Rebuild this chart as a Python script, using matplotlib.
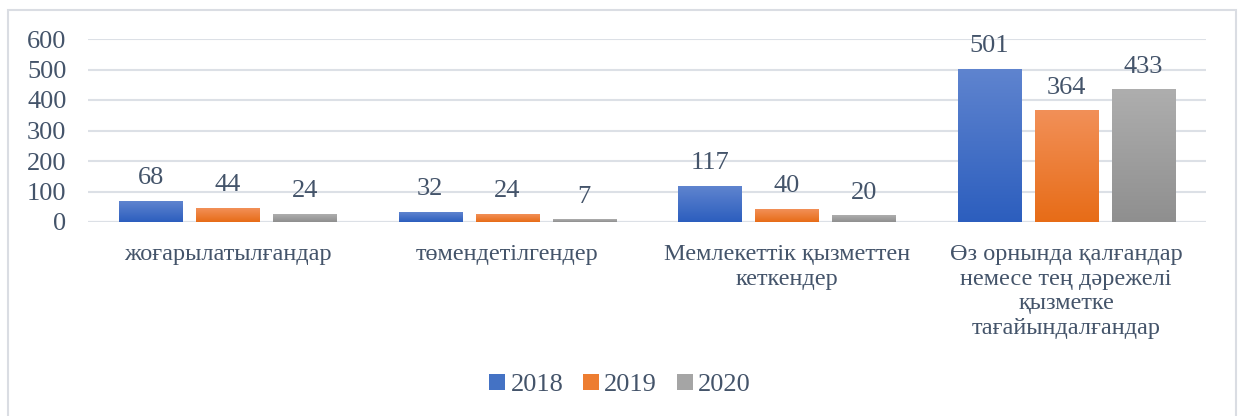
import matplotlib
matplotlib.use('Agg')
from matplotlib import pyplot as plt
from matplotlib.patches import Patch, Rectangle
from matplotlib.colors import LinearSegmentedColormap
import numpy as np

plt.rcParams['font.family'] = ['Liberation Serif', 'DejaVu Serif']

categories = [
    'жоғарылатылғандар',
    'төмендетілгендер',
    'Мемлекеттік қызметтен\nкеткендер',
    'Өз орнында қалғандар\nнемесе тең дәрежелі\nқызметке\nтағайындалғандар',
]
years = ['2018', '2019', '2020']
values_2018 = [68, 32, 117, 501]
values_2019 = [44, 24, 40, 364]
values_2020 = [24, 7, 20, 433]
yticks = [0, 100, 200, 300, 400, 500, 600]

# top colour, bottom colour of each gradient
gradients = [('#5F84CF', '#2C5EBE'), ('#F29058', '#E76C17'), ('#AEAEAE', '#8F8F8F')]
legend_colors = ['#4472C4', '#ED7D31', '#A5A5A5']
text_color = '#44546A'
grid_color = '#DCE0E6'

fig = plt.figure(figsize=(12.4, 4.16), dpi=100)
fig.patches.append(Rectangle((8 / 1240, -0.1), 1228 / 1240, 1.1 - 10 / 416,
                             transform=fig.transFigure, fill=False,
                             edgecolor='#DADDE3', linewidth=1.5))
ax = fig.add_axes([88 / 1240, 194 / 416, 1118 / 1240, 183 / 416])

x = np.arange(len(categories))
step = 0.2755
width = 0.226
series = [values_2018, values_2019, values_2020]

for i, vals in enumerate(series):
    bars = ax.bar(x + (i - 1) * step, vals, width, color='none', zorder=2)
    cmap = LinearSegmentedColormap.from_list('g%d' % i, [gradients[i][1], gradients[i][0]])
    grad = np.linspace(0, 1, 256).reshape(-1, 1)
    for b, v in zip(bars, vals):
        ax.imshow(grad, extent=(b.get_x(), b.get_x() + b.get_width(), 0, v),
                  origin='lower', aspect='auto', cmap=cmap, zorder=2)
        ax.annotate(str(v), (b.get_x() + b.get_width() / 2, v),
                    xytext=(0, 12.5), textcoords='offset points',
                    ha='center', va='baseline', fontsize=19, color=text_color)

ax.set_xlim(-0.5, len(categories) - 0.5)
ax.set_ylim(0, 600)
ax.set_yticks(yticks)
ax.set_xticks(x)
ax.set_xticklabels(categories, fontsize=17.5, color=text_color, linespacing=1.22)
ax.tick_params(axis='y', labelsize=19, labelcolor=text_color, length=0, pad=15.5)
ax.tick_params(axis='x', length=0, pad=16)
for lab in ax.get_yticklabels():
    lab.set_color(text_color)
ax.yaxis.grid(True, color=grid_color, linewidth=1.5, zorder=0)
ax.set_axisbelow(True)
for s in ax.spines.values():
    s.set_visible(False)
ax.axhline(0, color=grid_color, linewidth=1.5, zorder=1)

handles = [Patch(facecolor=c, edgecolor='none') for c in legend_colors]
leg = fig.legend(handles, years, loc='center', bbox_to_anchor=(0.5, 31 / 416),
                 ncol=3, frameon=False, fontsize=19, handlelength=0.6,
                 handleheight=0.6, handletextpad=0.2, columnspacing=0.75)
for t in leg.get_texts():
    t.set_color(text_color)

fig.savefig('out.png', dpi=100)
